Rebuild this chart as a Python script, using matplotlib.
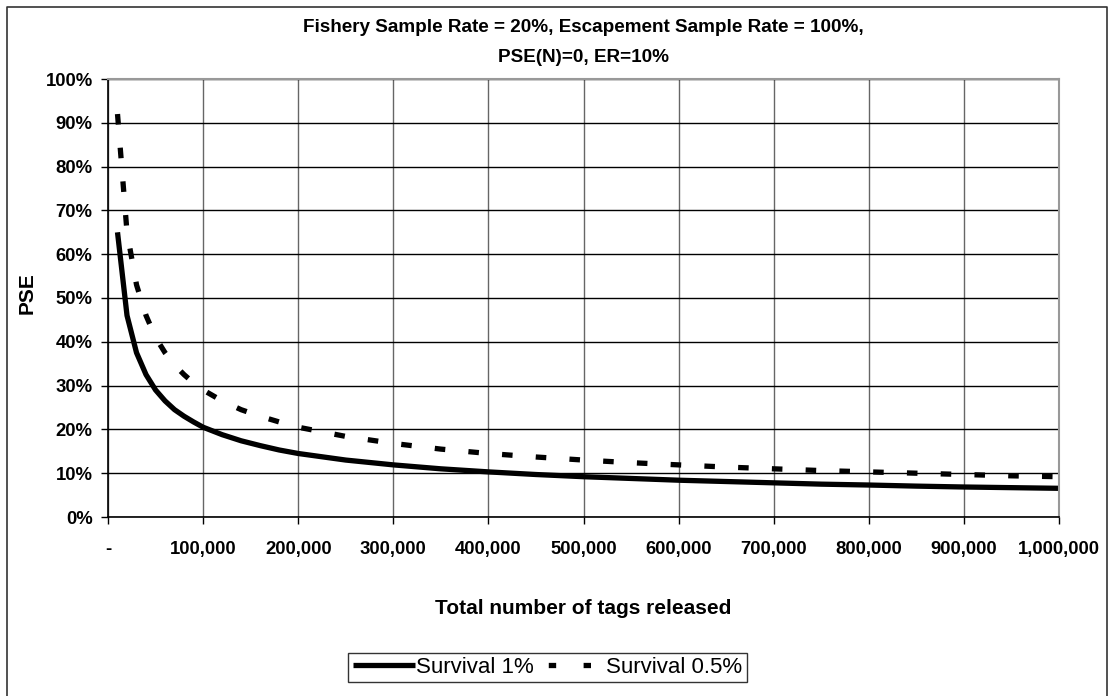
import matplotlib
matplotlib.use('Agg')
import matplotlib.pyplot as plt
from matplotlib.ticker import FuncFormatter, MultipleLocator
from matplotlib.lines import Line2D

plt.rcParams['font.family'] = ['Liberation Sans', 'DejaVu Sans']

# tags released and PSE (%)
tags = [10000, 20000, 30000, 40000, 50000, 60000, 70000, 80000, 90000, 100000,
        120000, 140000, 160000, 180000, 200000, 250000, 300000, 350000, 400000,
        450000, 500000, 550000, 600000, 650000, 700000, 750000, 800000, 850000,
        900000, 950000, 1000000]
survival_1 = [65, 46, 37.5, 32.5, 29, 26.5, 24.5, 23, 21.7, 20.5,
              18.8, 17.4, 16.3, 15.3, 14.5, 13, 11.9, 11, 10.3,
              9.7, 9.2, 8.8, 8.4, 8.1, 7.8, 7.5, 7.3, 7.05,
              6.85, 6.7, 6.55]
survival_05 = [92, 65, 53, 46, 41, 37.5, 34.7, 32.5, 30.6, 29,
               26.5, 24.5, 23, 21.7, 20.5, 18.4, 16.8, 15.5, 14.5,
               13.7, 13, 12.4, 11.9, 11.4, 11, 10.6, 10.3, 10,
               9.7, 9.4, 9.2]
series_names = ['Survival 1%', 'Survival 0.5%']

fig = plt.figure(figsize=(11.09, 6.96), dpi=100)
ax = fig.add_axes([108 / 1109, 1 - 517 / 696, 951 / 1109, 438 / 696])

# outer chart border
fig.add_artist(Line2D([7 / 1109, 7 / 1109, 1107 / 1109, 1107 / 1109],
                      [0, 1 - 7 / 696, 1 - 7 / 696, 0],
                      transform=fig.transFigure, color='#333333', lw=1.2))

ax.plot(tags, survival_1, color='black', lw=3.8, solid_capstyle='butt')
ax.plot(tags, survival_05, color='black', lw=3.8, dashes=(2, 4.4),
        dash_capstyle='butt')

ax.set_xlim(0, 1000000)
ax.set_ylim(0, 100)
ax.xaxis.set_major_locator(MultipleLocator(100000))
ax.yaxis.set_major_locator(MultipleLocator(10))
ax.xaxis.set_major_formatter(FuncFormatter(lambda v, p: '-' if v == 0 else '{:,.0f}'.format(v)))
ax.yaxis.set_major_formatter(FuncFormatter(lambda v, p: '{:.0f}%'.format(v)))

ax.yaxis.grid(True, color='black', lw=1)
ax.xaxis.grid(True, color='#666666', lw=1)
ax.set_axisbelow(True)

for s in ['top', 'right']:
    ax.spines[s].set_color('#999999')
    ax.spines[s].set_linewidth(1.5)
for s in ['left', 'bottom']:
    ax.spines[s].set_color('black')
    ax.spines[s].set_linewidth(1.2)

ax.tick_params(axis='both', direction='out', length=5, width=1, color='black',
               labelsize=13.3)
ax.tick_params(axis='x', pad=12)
ax.tick_params(axis='y', pad=6)
for lbl in ax.get_xticklabels() + ax.get_yticklabels():
    lbl.set_fontweight('bold')

fig.text(27 / 1109, 1 - 293 / 696, 'PSE', fontsize=15, fontweight='bold',
         rotation=90, ha='center', va='center')

fig.text(583 / 1109, 1 - 609 / 696, 'Total number of tags released',
         fontsize=15, fontweight='bold', ha='center', va='center')

fig.text(583 / 1109, 1 - 28 / 696, 'Fishery Sample Rate = 20%, Escapement Sample Rate = 100%,',
         fontsize=13.6, fontweight='bold', ha='center', va='center')
fig.text(583 / 1109, 1 - 57 / 696, 'PSE(N)=0, ER=10%',
         fontsize=13.6, fontweight='bold', ha='center', va='center')

# legend proxies so the dashed key shows two square dashes like the original
h_solid = Line2D([], [], color='black', lw=3.8, solid_capstyle='butt')
h_dash = Line2D([], [], color='black', lw=3.8, dash_capstyle='butt',
                linestyle=(5.6, (1.4, 5.2)))
leg = fig.legend([h_solid, h_dash], series_names, loc='center',
                 bbox_to_anchor=(547.5 / 1109, 1 - 667.5 / 696),
                 ncol=2, fontsize=16, frameon=True, fancybox=False,
                 handlelength=2.8, handletextpad=0.05, columnspacing=0.4,
                 borderpad=0.2, borderaxespad=0)
leg.get_frame().set_edgecolor('black')
leg.get_frame().set_linewidth(1)

fig.savefig('out.png', dpi=100)
